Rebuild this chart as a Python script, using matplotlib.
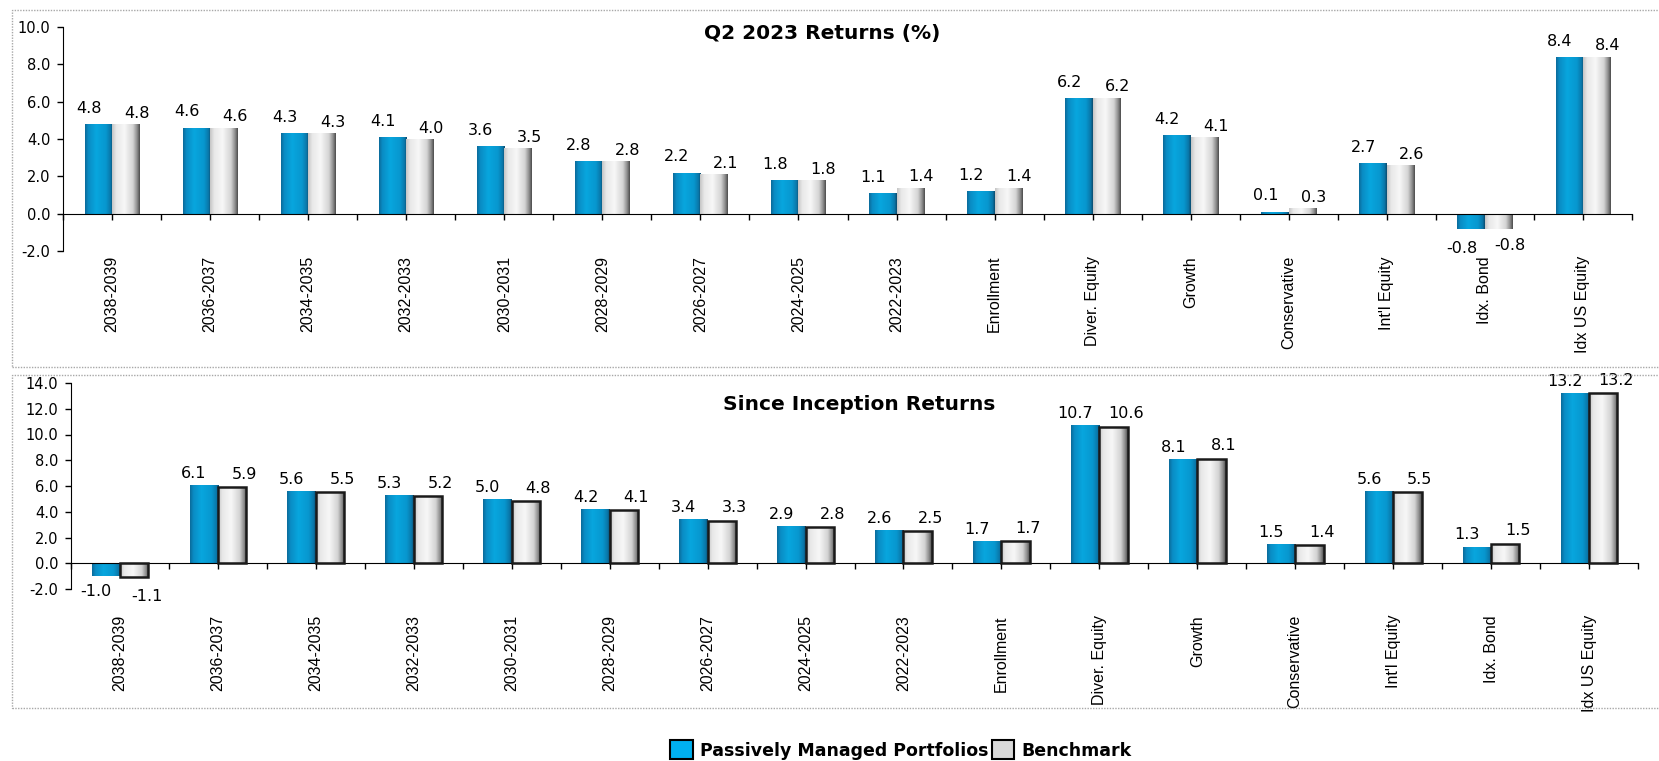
import matplotlib
matplotlib.use("Agg")
import matplotlib.pyplot as plt
import matplotlib.transforms as mtransforms
from matplotlib.colors import LinearSegmentedColormap
from matplotlib.patches import Rectangle, Patch
import numpy as np

# data
categories = ["2038-2039", "2036-2037", "2034-2035", "2032-2033", "2030-2031",
              "2028-2029", "2026-2027", "2024-2025", "2022-2023", "Enrollment",
              "Diver. Equity", "Growth", "Conservative", "Int'l Equity",
              "Idx. Bond", "Idx US Equity"]
q2_portfolio = [4.8, 4.6, 4.3, 4.1, 3.6, 2.8, 2.2, 1.8, 1.1, 1.2, 6.2, 4.2, 0.1, 2.7, -0.8, 8.4]
q2_benchmark = [4.8, 4.6, 4.3, 4.0, 3.5, 2.8, 2.1, 1.8, 1.4, 1.4, 6.2, 4.1, 0.3, 2.6, -0.8, 8.4]
si_portfolio = [-1.0, 6.1, 5.6, 5.3, 5.0, 4.2, 3.4, 2.9, 2.6, 1.7, 10.7, 8.1, 1.5, 5.6, 1.3, 13.2]
si_benchmark = [-1.1, 5.9, 5.5, 5.2, 4.8, 4.1, 3.3, 2.8, 2.5, 1.7, 10.6, 8.1, 1.4, 5.5, 1.5, 13.2]

# gradient maps to fake the bevelled excel bars
blue_cm = LinearSegmentedColormap.from_list(
    "blue", [(0, "#0b6a99"), (0.12, "#0a8cc4"), (0.4, "#08a6de"),
             (0.75, "#0797cf"), (0.92, "#0a76a8"), (1, "#0b4a6c")])
gray_cm = LinearSegmentedColormap.from_list(
    "gray", [(0, "#c4c4c4"), (0.15, "#e8e8e8"), (0.45, "#f7f7f7"),
             (0.75, "#d4d4d4"), (0.9, "#8c8c8c"), (1, "#4a4a4a")])

fig = plt.figure(figsize=(16.59, 7.61), dpi=100)

# dotted frames round each chart
fig.patches.append(Rectangle((12 / 1659, 1 - 367 / 761), 1.0, (367 - 10) / 761,
                             transform=fig.transFigure, fill=False,
                             ec="#a8a8a8", lw=1, ls=(0, (1, 1))))
fig.patches.append(Rectangle((12 / 1659, 1 - 708 / 761), 1.0, (708 - 375) / 761,
                             transform=fig.transFigure, fill=False,
                             ec="#a8a8a8", lw=1, ls=(0, (1, 1))))


def shade(ax, bars, cmap):
    grad = np.linspace(0, 1, 256).reshape(1, -1)
    for b in bars:
        x0, y0 = b.get_x(), b.get_y()
        w, h = b.get_width(), b.get_height()
        im = ax.imshow(grad, cmap=cmap, aspect="auto", interpolation="bilinear",
                       extent=[x0, x0 + w, min(y0, y0 + h), max(y0, y0 + h)],
                       zorder=2.5)
        im.set_clip_path(b)


def panel(rect, port, bench, ylim, yticks, width, title, title_xy, label_y,
          edge, offs):
    ax = fig.add_axes(rect)
    x = np.arange(len(categories))
    b1 = ax.bar(x - width, port, width, align="edge", facecolor="none",
                edgecolor="none", zorder=3)
    b2 = ax.bar(x, bench, width, align="edge", facecolor="none",
                edgecolor=edge, lw=1.8 if edge != "none" else 0, zorder=3)
    shade(ax, b1, blue_cm)
    shade(ax, b2, gray_cm)
    ax.set_xlim(-0.5, len(categories) - 0.5)
    ax.set_ylim(*ylim)
    ax.set_yticks(yticks)
    ax.set_yticklabels([f"{t:.1f}" for t in yticks], fontsize=10.5,
                       family="DejaVu Sans")
    ax.tick_params(axis="y", direction="out", length=4, width=1, pad=5)
    for s in ["top", "right"]:
        ax.spines[s].set_visible(False)
    ax.spines["bottom"].set_position(("data", 0))
    ax.set_xticks(x)
    ax.set_xticks(np.arange(len(categories) + 1) - 0.5, minor=True)
    ax.tick_params(axis="x", which="both", direction="out", length=4, width=1,
                   labelbottom=False)

    # value labels
    (pdx, pdy, bdx, bdy) = offs
    for xi, v in zip(x, port):
        ax.annotate(f"{v:.1f}", (xi - width / 2, v),
                    xytext=(pdx, pdy if v >= 0 else -pdy - 3),
                    textcoords="offset points", ha="center",
                    va="bottom" if v >= 0 else "top", fontsize=11.5, zorder=5)
    for xi, v in zip(x, bench):
        ax.annotate(f"{v:.1f}", (xi + width / 2, v),
                    xytext=(bdx, bdy if v >= 0 else -bdy - 4),
                    textcoords="offset points", ha="center",
                    va="bottom" if v >= 0 else "top", fontsize=11.5, zorder=5)

    # category labels
    tr = mtransforms.blended_transform_factory(ax.transData, fig.transFigure)
    for xi, c in zip(x, categories):
        ax.text(xi, label_y, c, rotation=90, ha="center", va="top",
                transform=tr, fontsize=11.5,
                family=["Liberation Sans Narrow", "Liberation Sans"])

    fig.text(title_xy[0], title_xy[1], title, ha="center", va="center",
             fontsize=14.5, fontweight="bold")
    return ax


panel([63 / 1659, 1 - 251 / 761, (1632 - 63) / 1659, (251 - 27) / 761],
      q2_portfolio, q2_benchmark, (-2, 10), np.arange(-2, 10.1, 2), 0.28,
      "Q2 2023 Returns (%)", (822 / 1659, 1 - 33 / 761), 1 - 256 / 761,
      "none", (-7, 6, 8, 2.5))

panel([71 / 1659, 1 - 589 / 761, (1638 - 71) / 1659, (589 - 383) / 761],
      si_portfolio, si_benchmark, (-2, 14), np.arange(-2, 14.1, 2), 0.29,
      "Since Inception Returns", (859 / 1659, 1 - 405 / 761), 1 - 615 / 761,
      "#1a1a1a", (-7, 3, 9, 4))

handles = [Patch(facecolor="#00b0f0", edgecolor="black", lw=1.5),
           Patch(facecolor="#d9d9d9", edgecolor="black", lw=1.5)]
fig.legend(handles, ["Passively Managed Portfolios", "Benchmark"],
           loc="center", bbox_to_anchor=(901 / 1659, 1 - 750 / 761), ncol=2,
           frameon=False, handlelength=1.3, handleheight=1.3,
           handletextpad=0.4, columnspacing=0.2, borderpad=0,
           prop={"weight": "bold", "size": 12.5})

fig.savefig("out.png", dpi=100)
